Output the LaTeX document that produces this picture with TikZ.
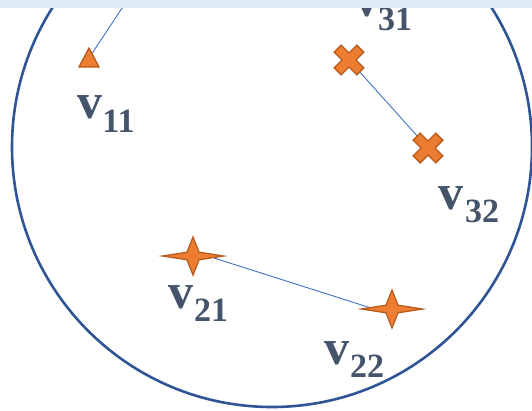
\documentclass[tikz,border=0pt]{standalone}
\usepackage{fontspec}
\setmainfont{Liberation Serif}
\definecolor{circblue}{HTML}{2F5597}
\definecolor{linkblue}{HTML}{4472C4}
\definecolor{mkfill}{HTML}{ED7D31}
\definecolor{mkedge}{HTML}{B85B1E}
\definecolor{lbl}{HTML}{44546A}
\definecolor{stripblue}{HTML}{DEEAF6}
\tikzset{
  link/.style={draw=linkblue, line width=0.9pt},
  marker/.style={fill=mkfill, draw=mkedge, line width=1.3pt, line join=miter},
  vlab/.style={font=\fontsize{50}{50}\selectfont\bfseries, text=lbl, inner sep=0pt, anchor=base},
  slab/.style={font=\fontsize{34}{34}\selectfont\bfseries, text=lbl, inner sep=0pt, anchor=base},
  trimark/.pic={\path[marker] (0,-10) -- (10,9) -- (-10,9) -- cycle;},
  crossmark/.pic={\path[marker,rotate=45] (-5,-16) -- (5,-16) -- (5,-5) -- (16,-5) -- (16,5) -- (5,5) -- (5,16) -- (-5,16) -- (-5,5) -- (-16,5) -- (-16,-5) -- (-5,-5) -- cycle;},
  starmark/.pic={\path[marker] (-30.5,0) -- (-6,-3.8) -- (0,-19) -- (6,-3.8) -- (30.5,0) -- (6,3.8) -- (0,19) -- (-6,3.8) -- cycle;}
}
\begin{document}
\begin{tikzpicture}[x=1pt,y=-1pt]
\useasboundingbox (0,0) rectangle (532,410);
\clip (0,0) rectangle (532,410);
\fill[white] (0,0) rectangle (532,410);
% big circle
\draw[circblue, line width=2.6pt] (272,147) circle[radius=260pt];
% anchor coordinates
\coordinate (p11) at (89,58);
\coordinate (e11) at (128,-1);
\coordinate (p31) at (349,60);
\coordinate (p32) at (428,148);
\coordinate (p21) at (193,256);
\coordinate (p22) at (392,309);
\coordinate (a21) at (214,258);
\coordinate (a22) at (371,308);
% connectors
\draw[link] (p11) -- (e11);
\draw[link] (p31) -- (p32);
\draw[link] (a21) -- (a22);
% markers
\pic at (p11) {trimark};
\pic at (p31) {crossmark};
\pic at (p32) {crossmark};
\pic at (p21) {starmark};
\pic at (p22) {starmark};
% labels
\node[vlab] (v11) at (90,118) {v};
\node[slab] (s11) at (118.5,132) {11};
\node[vlab] (v31) at (366.5,16) {v};
\node[slab] (s31) at (395,30) {31};
\node[vlab] (v32) at (451,209) {v};
\node[slab] (s32) at (482,222) {32};
\node[vlab] (v21) at (180.5,308) {v};
\node[slab] (s21) at (211,321) {21};
\node[vlab] (v22) at (336.5,364) {v};
\node[slab] (s22) at (367,377) {22};
% top strip
\fill[stripblue] (0,0) rectangle (532,7.5);
\end{tikzpicture}
\end{document}
